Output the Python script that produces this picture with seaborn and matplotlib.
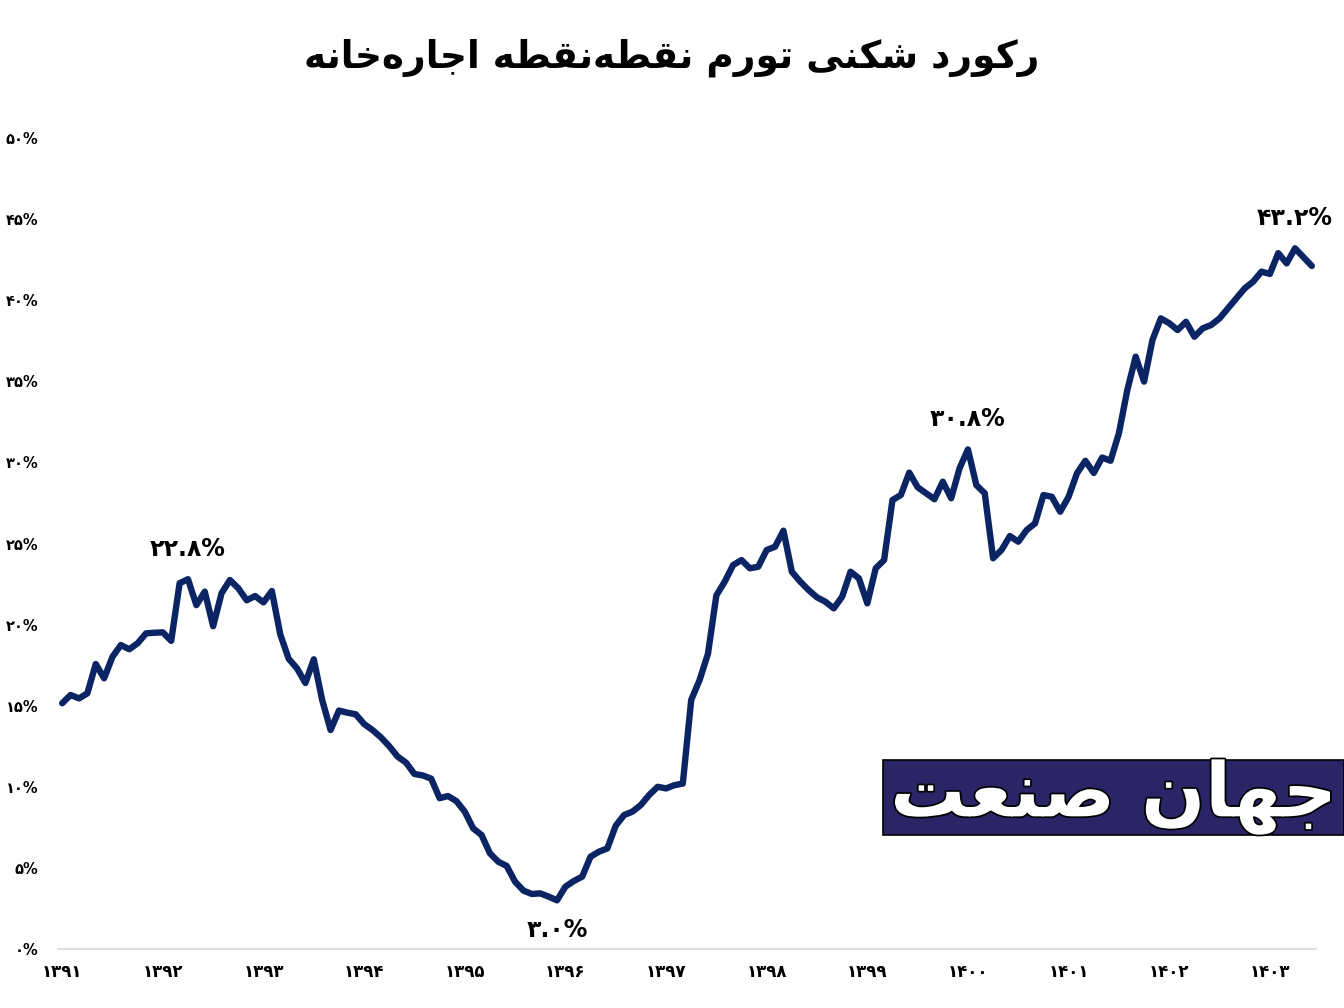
import matplotlib
matplotlib.use("Agg")
import matplotlib.pyplot as plt
import matplotlib.patheffects as pe
from matplotlib.patches import Rectangle
import numpy as np
import pandas as pd
import seaborn as sns

# ---------------- data (monthly point-to-point rent inflation, %) ----------------
year_labels = ["1391", "1392", "1393", "1394", "1395", "1396", "1397",
               "1398", "1399", "1400", "1401", "1402", "1403"]
rent_1391 = [15.15, 15.66, 15.45, 15.76, 17.57, 16.69, 18.02, 18.74, 18.48, 18.85, 19.46, 19.5]
rent_1392 = [19.52, 19.0, 22.55, 22.8, 21.2, 22.03, 19.9, 21.93, 22.75, 22.24, 21.5, 21.76]
rent_1393 = [21.37, 22.07, 19.4, 17.9, 17.3, 16.4, 17.86, 15.35, 13.5, 14.7, 14.57, 14.47]
rent_1394 = [13.87, 13.5, 13.05, 12.5, 11.86, 11.49, 10.79, 10.7, 10.5, 9.3, 9.43, 9.12]
rent_1395 = [8.47, 7.44, 7.03, 5.9, 5.38, 5.12, 4.15, 3.6, 3.39, 3.43, 3.23, 3.0]
rent_1396 = [3.84, 4.19, 4.46, 5.69, 6.0, 6.2, 7.6, 8.26, 8.47, 8.88, 9.5, 10.0]
rent_1397 = [9.9, 10.1, 10.2, 15.35, 16.58, 18.2, 21.8, 22.65, 23.67, 23.98, 23.47, 23.57]
rent_1398 = [24.6, 24.8, 25.79, 23.26, 22.65, 22.13, 21.68, 21.41, 21.0, 21.72, 23.26, 22.85]
rent_1399 = [21.31, 23.47, 23.98, 27.68, 27.99, 29.37, 28.47, 28.1, 27.73, 28.81, 27.79, 29.64]
rent_1400 = [30.8, 28.6, 28.1, 24.09, 24.6, 25.46, 25.11, 25.83, 26.24, 27.99, 27.88, 26.96]
rent_1401 = [27.88, 29.33, 30.1, 29.35, 30.3, 30.1, 31.8, 34.46, 36.52, 34.98, 37.55, 38.88]
rent_1402 = [38.58, 38.16, 38.67, 37.75, 38.27, 38.47, 38.88, 39.5, 40.12, 40.73, 41.14, 41.76]
rent_1403 = [41.62, 42.9, 42.27, 43.2, 42.65, 42.11]

y_ticks = [0, 5, 10, 15, 20, 25, 30, 35, 40, 45, 50]
title_text = "رکورد شکنی تورم نقطه‌نقطه اجاره‌خانه"
logo_text = "جهان صنعت"

values = (rent_1391 + rent_1392 + rent_1393 + rent_1394 + rent_1395 + rent_1396 +
          rent_1397 + rent_1398 + rent_1399 + rent_1400 + rent_1401 + rent_1402 + rent_1403)
df = pd.DataFrame({"month": np.arange(len(values)), "rent": values})

# ---------------- helpers ----------------
FA_DIGITS = str.maketrans("0123456789", "۰۱۲۳۴۵۶۷۸۹")


def fa(s):
    return str(s).translate(FA_DIGITS)


FORMS = {
    'ا': ('\uFE8D', '\uFE8E', None, None),
    'آ': ('\uFE81', '\uFE82', None, None),
    'ب': ('\uFE8F', '\uFE90', '\uFE91', '\uFE92'),
    'ت': ('\uFE95', '\uFE96', '\uFE97', '\uFE98'),
    'ج': ('\uFE9D', '\uFE9E', '\uFE9F', '\uFEA0'),
    'خ': ('\uFEA5', '\uFEA6', '\uFEA7', '\uFEA8'),
    'د': ('\uFEA9', '\uFEAA', None, None),
    'ر': ('\uFEAD', '\uFEAE', None, None),
    'ش': ('\uFEB5', '\uFEB6', '\uFEB7', '\uFEB8'),
    'ص': ('\uFEB9', '\uFEBA', '\uFEBB', '\uFEBC'),
    'ط': ('\uFEC1', '\uFEC2', '\uFEC3', '\uFEC4'),
    'ع': ('\uFEC9', '\uFECA', '\uFECB', '\uFECC'),
    'ق': ('\uFED5', '\uFED6', '\uFED7', '\uFED8'),
    'م': ('\uFEE1', '\uFEE2', '\uFEE3', '\uFEE4'),
    'ن': ('\uFEE5', '\uFEE6', '\uFEE7', '\uFEE8'),
    'ه': ('\uFEE9', '\uFEEA', '\uFEEB', '\uFEEC'),
    'و': ('\uFEED', '\uFEEE', None, None),
    'ک': ('\uFB8E', '\uFB8F', '\uFB90', '\uFB91'),
    'ی': ('\uFBFC', '\uFBFD', '\uFBFE', '\uFBFF'),
}


def shape_rtl(text):
    out = []
    n = len(text)
    for k, c in enumerate(text):
        if c not in FORMS:
            if c != '\u200c':
                out.append(c)
            continue
        prev = text[k - 1] if k > 0 else ''
        nxt = text[k + 1] if k < n - 1 else ''
        jp = prev in FORMS and FORMS[prev][2] is not None
        jn = FORMS[c][2] is not None and nxt in FORMS
        f = FORMS[c]
        if jp and jn:
            g = f[3]
        elif jp:
            g = f[1]
        elif jn:
            g = f[2]
        else:
            g = f[0]
        out.append(g)
    return "".join(out)[::-1]


# ---------------- figure ----------------
sns.set_theme(style="white")
plt.rcParams['font.family'] = ['DejaVu Sans', 'Noto Sans', 'Liberation Sans']

W, H = 1344, 1008
fig = plt.figure(figsize=(W / 100, H / 100), dpi=100)
ax = fig.add_axes([58 / W, 1 - 949 / H, (1316 - 58) / W, (949 - 138) / H])

navy = "#0b2463"
sns.lineplot(data=df, x="month", y="rent", ax=ax, color=navy, linewidth=4.6)
for ln in ax.lines:
    ln.set_solid_joinstyle("round")
    ln.set_solid_capstyle("round")

ax.set_xlim(-0.5, len(values) - 0.5)
ax.set_ylim(0, 50)
ax.set_xticks(np.arange(0, len(values), 12))
ax.set_xticklabels([fa(y) for y in year_labels], fontsize=12, fontweight="bold")
ax.set_yticks(y_ticks)
ax.set_yticklabels([fa(v) + "%" for v in y_ticks], fontsize=10.5, fontweight="bold")
ax.tick_params(axis="x", length=0, pad=10, colors="black")
ax.tick_params(axis="y", length=0, pad=14, colors="black")
ax.set_xlabel("")
ax.set_ylabel("")
ax.grid(False)
for s in ["left", "top", "right"]:
    ax.spines[s].set_visible(False)
ax.spines["bottom"].set_color("#d9d9d9")
ax.spines["bottom"].set_linewidth(1.2)

# annotations
vals = np.array(values)
notes = [(15, 30), (59, -30), (108, 30), (147, 30)]
for idx, off in notes:
    ax.annotate(fa(f"{vals[idx]:.1f}") + "%", xy=(idx, vals[idx]), xytext=(0, off),
                textcoords="offset pixels", ha="center", va="center",
                fontsize=17, fontweight="bold", color="black")

# title
fig.text(0.5, 1 - 58 / H, shape_rtl(title_text), ha="center", va="center",
         fontsize=27, fontweight="bold", color="black")

# logo
fig.patches.append(Rectangle((883 / W, 1 - 835 / H), (W - 883) / W, 75 / H,
                             transform=fig.transFigure, facecolor="#2b2466",
                             edgecolor="black", linewidth=1.2, zorder=5))
fig.text((883 + 1344) / 2 / W, 1 - 797 / H, shape_rtl(logo_text), ha="center", va="center",
         fontsize=54, fontweight="bold", color="white", zorder=6,
         path_effects=[pe.withStroke(linewidth=2.5, foreground="black")])

fig.savefig("out.png", dpi=100, facecolor="white")
